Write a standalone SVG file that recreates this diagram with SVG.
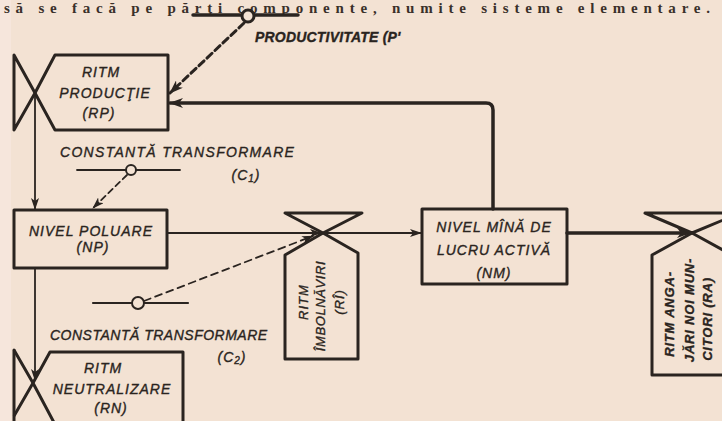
<svg xmlns="http://www.w3.org/2000/svg" width="722" height="421" viewBox="0 0 722 421">
<defs>
<style>
.bg{fill:#f3e2d3}
.ln{fill:none;stroke:#2a2420;stroke-linejoin:round;stroke-linecap:round}
.box{fill:none;stroke:#2a2420;stroke-width:3;stroke-linejoin:round}
.t{font-family:"Liberation Sans",Arial,sans-serif;font-style:italic;font-size:14px;fill:#2a2420;stroke:#2a2420;stroke-width:0.35px;letter-spacing:1px}
.c{text-anchor:middle}
.r{font-size:13px}
.body{font-family:"Liberation Serif","Times New Roman",serif;font-size:15px;font-weight:bold;fill:#3a302a}
</style>
<marker id="ah" viewBox="0 0 12 8" refX="11" refY="4" markerWidth="12" markerHeight="8" markerUnits="userSpaceOnUse" orient="auto">
<path d="M0,0 L12,4 L0,8 L3,4 Z" fill="#2a2420"/>
</marker>
<marker id="ahb" viewBox="0 0 14 10" refX="13" refY="5" markerWidth="14" markerHeight="10" markerUnits="userSpaceOnUse" orient="auto">
<path d="M0,0 L14,5 L0,10 L4,5 Z" fill="#2a2420"/>
</marker>
</defs>
<rect class="bg" x="0" y="0" width="722" height="421"/>
<rect x="0" y="0" width="11" height="421" fill="#f6e6dc"/>
<text class="body" x="4" y="13" textLength="706" lengthAdjust="spacing">să se facă pe părţi componente, numite sisteme elementare.</text>

<g id="connectors">
<line class="ln" x1="35" y1="95" x2="35" y2="209" stroke-width="1.8" marker-end="url(#ah)"/>
<line class="ln" x1="35" y1="268" x2="35" y2="380" stroke-width="1.8" marker-end="url(#ah)"/>
<line class="ln" x1="167" y1="233" x2="321" y2="233" stroke-width="2" marker-end="url(#ah)"/>
<line class="ln" x1="323" y1="233" x2="421" y2="233" stroke-width="2" marker-end="url(#ah)"/>
<line class="ln" x1="567" y1="233" x2="690" y2="233" stroke-width="3.5" marker-end="url(#ahb)"/>
<path class="ln" d="M493,209 L493,110 Q493,103 486,103 L170,103" stroke-width="3.5" marker-end="url(#ahb)"/>
<line class="ln" x1="244" y1="23" x2="170" y2="93" stroke-width="3" stroke-dasharray="7 4" marker-end="url(#ahb)"/>
<line class="ln" x1="127" y1="175" x2="93" y2="208" stroke-width="1.8" stroke-dasharray="6 4" marker-end="url(#ah)"/>
<line class="ln" x1="144" y1="301" x2="313" y2="236" stroke-width="1.8" stroke-dasharray="7 5" marker-end="url(#ah)"/>
</g>

<g id="P">
<line class="ln" x1="193" y1="15" x2="242" y2="15" stroke-width="3.5"/>
<line class="ln" x1="254" y1="15" x2="298" y2="15" stroke-width="3.5"/>
<circle cx="248" cy="16" r="6" fill="#f3e2d3" stroke="#2a2420" stroke-width="3"/>
<text class="t" x="255" y="42" style="font-weight:bold;letter-spacing:0.2px">PRODUCTIVITATE (P'</text>
</g>

<g id="RP">
<path class="box" d="M55,55 L168,55 L168,130 L55,130 L35,93 Z"/>
<path class="box" d="M14,55 L35,93 L14,130 Z"/>
<text class="t c" x="101" y="77">RITM</text>
<text class="t c" x="105" y="98">PRODUCŢIE</text>
<text class="t c" x="99" y="118">(RP)</text>
</g>

<g id="C1">
<line class="ln" x1="77" y1="170" x2="126" y2="170" stroke-width="1.8"/>
<line class="ln" x1="136" y1="170" x2="180" y2="170" stroke-width="1.8"/>
<circle cx="131" cy="170" r="5" fill="#f3e2d3" stroke="#2a2420" stroke-width="2"/>
<text class="t" x="60" y="157" style="letter-spacing:1.3px">CONSTANTĂ TRANSFORMARE</text>
<text class="t c" x="246" y="180">(C<tspan font-size="10" dy="2">1</tspan><tspan dy="-2">)</tspan></text>
</g>

<g id="NP">
<rect class="box" x="14" y="210" width="153" height="58"/>
<text class="t c" x="91" y="236">NIVEL POLUARE</text>
<text class="t c" x="93" y="252">(NP)</text>
</g>

<g id="RI">
<path class="box" d="M285,213 L362,213 L323,233 Z"/>
<path class="box" d="M285,255 L323,233 L358,253 L358,359 L285,359 Z"/>
<text class="t r c" transform="translate(308,302) rotate(-90)">RITM</text>
<text class="t r c" transform="translate(325,306) rotate(-90)" style="letter-spacing:0.6px">ÎMBOLNĂVIRI</text>
<text class="t r c" transform="translate(344,302) rotate(-90)">(RÎ)</text>
</g>

<g id="C2">
<line class="ln" x1="93" y1="303" x2="132" y2="303" stroke-width="2.2"/>
<line class="ln" x1="144" y1="303" x2="188" y2="303" stroke-width="2.2"/>
<circle cx="138" cy="303" r="6" fill="#f3e2d3" stroke="#2a2420" stroke-width="2"/>
<text class="t" x="50" y="340" style="letter-spacing:0.5px">CONSTANTĂ TRANSFORMARE</text>
<text class="t c" x="232" y="362">(C<tspan font-size="10" dy="2">2</tspan><tspan dy="-2">)</tspan></text>
</g>

<g id="NM">
<rect class="box" x="422" y="209" width="145" height="75"/>
<text class="t c" x="494" y="232">NIVEL MÎNĂ DE</text>
<text class="t c" x="494" y="255">LUCRU ACTIVĂ</text>
<text class="t c" x="494" y="278">(NM)</text>
</g>

<g id="RN">
<path class="box" d="M183,430 L183,352 L50,352 L33,383 L58,430"/>
<path class="box" d="M14,350 L33,383 L14,416"/>
<line class="ln" x1="14" y1="350" x2="14" y2="430" stroke-width="3"/>
<text class="t c" x="103" y="373">RITM</text>
<text class="t c" x="112" y="394">NEUTRALIZARE</text>
<text class="t c" x="111" y="413">(RN)</text>
</g>

<g id="RA">
<path class="box" d="M645,213 L740,213 L692,233 Z" stroke-width="3.5"/>
<path class="box" d="M652,255 L692,233 L732,255 L732,375 L652,375 Z"/>
<text class="t r c" transform="translate(674,314) rotate(-90)" style="font-weight:bold;letter-spacing:0.8px">RITM ANGA-</text>
<text class="t r c" transform="translate(694,310) rotate(-90)" style="font-weight:bold;letter-spacing:0.8px">JĂRI NOI MUN-</text>
<text class="t r c" transform="translate(712,319) rotate(-90)" style="font-weight:bold;letter-spacing:0.8px">CITORI (RA)</text>
</g>
</svg>
